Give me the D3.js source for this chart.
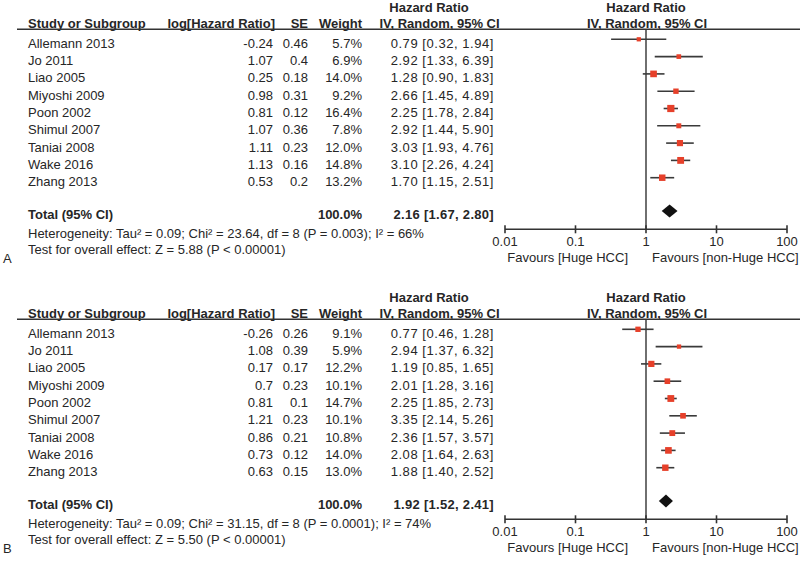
<!DOCTYPE html>
<html><head><meta charset="utf-8">
<script src="https://cdn.jsdelivr.net/npm/d3@7"></script>
<style>
html,body{margin:0;padding:0;background:#fff;}
svg text{font-family:"Liberation Sans",Arial,sans-serif;fill:#262626;}
</style></head>
<body><svg id="c" width="800" height="563"></svg>
<script>
const studies = ["Allemann 2013","Jo 2011","Liao 2005","Miyoshi 2009","Poon 2002","Shimul 2007","Taniai 2008","Wake 2016","Zhang 2013"];

// Panel A
const logHR_A = ["-0.24","1.07","0.25","0.98","0.81","1.07","1.11","1.13","0.53"];
const se_A = ["0.46","0.4","0.18","0.31","0.12","0.36","0.23","0.16","0.2"];
const weight_A = [5.7,6.9,14.0,9.2,16.4,7.8,12.0,14.8,13.2];
const hr_A = [0.79,2.92,1.28,2.66,2.25,2.92,3.03,3.10,1.70];
const lo_A = [0.32,1.33,0.90,1.45,1.78,1.44,1.93,2.26,1.15];
const hi_A = [1.94,6.39,1.83,4.89,2.84,5.90,4.76,4.24,2.51];
const total_A = [2.16,1.67,2.80];
const het_A = "Heterogeneity: Tau² = 0.09; Chi² = 23.64, df = 8 (P = 0.003); I² = 66%";
const test_A = "Test for overall effect: Z = 5.88 (P < 0.00001)";

// Panel B
const logHR_B = ["-0.26","1.08","0.17","0.7","0.81","1.21","0.86","0.73","0.63"];
const se_B = ["0.26","0.39","0.17","0.23","0.1","0.23","0.21","0.12","0.15"];
const weight_B = [9.1,5.9,12.2,10.1,14.7,10.1,10.8,14.0,13.0];
const hr_B = [0.77,2.94,1.19,2.01,2.25,3.35,2.36,2.08,1.88];
const lo_B = [0.46,1.37,0.85,1.28,1.85,2.14,1.57,1.64,1.40];
const hi_B = [1.28,6.32,1.65,3.16,2.73,5.26,3.57,2.63,2.52];
const total_B = [1.92,1.52,2.41];
const het_B = "Heterogeneity: Tau² = 0.09; Chi² = 31.15, df = 8 (P = 0.0001); I² = 74%";
const test_B = "Test for overall effect: Z = 5.50 (P < 0.00001)";

const tickVals = [0.01,0.1,1,10,100];
const tickLabels = ["0.01","0.1","1","10","100"];
const favLeft = "Favours [Huge HCC]";
const favRight = "Favours [non-Huge HCC]";

const svg = d3.select("#c");
const x = d3.scaleLog().domain([0.01,100]).range([505,787]);
const size = d3.scaleSqrt().domain([0,16.4]).range([0,7.2]);
const FS = "13px";
const f2 = d3.format(".2f");
const f1 = d3.format(".1f");

function panel(oy, label, logHR, se, weight, hr, lo, hi, total, het, test){
  const g = svg.append("g").attr("transform",`translate(0,${oy})`);
  const rowY = d3.scaleLinear().domain([0,1]).range([39.3,56.6]);
  const txt = (t,xx,yy,anchor,bold)=>g.append("text").attr("x",xx).attr("y",yy)
      .attr("text-anchor",anchor||"start").style("font-size",FS)
      .style("font-weight",bold?"bold":"normal").text(t);

  // headers
  txt("Hazard Ratio",429,12,"middle",true);
  txt("Hazard Ratio",646,12,"middle",true);
  txt("Study or Subgroup",28,27.5,"start",true);
  txt("log[Hazard Ratio]",275,27.5,"end",true);
  txt("SE",308,27.5,"end",true);
  txt("Weight",362,27.5,"end",true);
  txt("IV, Random, 95% CI",439.5,27.5,"middle",true);
  txt("IV, Random, 95% CI",647,27.5,"middle",true);
  g.append("line").attr("x1",17).attr("x2",800).attr("y1",29.3).attr("y2",29.3)
    .attr("stroke","#333").attr("stroke-width",1.4);

  // rows
  studies.forEach((s,i)=>{
    const y = rowY(i), ty = y+8.5;
    txt(s,28,ty);
    txt(logHR[i],273,ty,"end");
    txt(se[i],308,ty,"end");
    txt(f1(weight[i])+"%",362,ty,"end");
    txt(`${f2(hr[i])} [${f2(lo[i])}, ${f2(hi[i])}]`,494,ty,"end").style("letter-spacing","0.55px");
  });

  // total
  const ty = 211;
  txt("Total (95% CI)",28,ty+8,"start",true);
  txt("100.0%",362,ty+8,"end",true);
  txt(`${f2(total[0])} [${f2(total[1])}, ${f2(total[2])}]`,494,ty+8,"end",true).style("letter-spacing","0.3px");
  txt(het,28,237.5,"start");
  txt(test,28,253.5,"start");
  txt(label,3,263,"start");

  // vertical line at 1
  const axisY = 229.3;
  g.append("line").attr("x1",x(1)).attr("x2",x(1)).attr("y1",29.3).attr("y2",axisY)
    .attr("stroke","#333").attr("stroke-width",1.4);

  // CI lines and squares
  studies.forEach((s,i)=>{
    const y = rowY(i);
    g.append("line").attr("x1",x(lo[i])).attr("x2",x(hi[i])).attr("y1",y).attr("y2",y)
      .attr("stroke","#3a3a3a").attr("stroke-width",1.6);
    const w = size(weight[i]);
    g.append("rect").attr("x",x(hr[i])-w/2).attr("y",y-w/2).attr("width",w).attr("height",w)
      .attr("fill","#e6402a");
  });

  // diamond
  const dh = 6.5;
  g.append("path").attr("d",`M${x(total[1])},${ty}L${x(total[0])},${ty-dh}L${x(total[2])},${ty}L${x(total[0])},${ty+dh}Z`)
    .attr("fill","#111");

  // axis
  const ax = g.append("g").attr("transform",`translate(0,${axisY})`);
  ax.append("line").attr("x1",x(0.01)).attr("x2",x(100)).attr("stroke","#333").attr("stroke-width",1.6);
  tickVals.forEach((v,i)=>{
    ax.append("line").attr("x1",x(v)).attr("x2",x(v)).attr("y1",-4).attr("y2",4)
      .attr("stroke","#333").attr("stroke-width",1.6);
    ax.append("text").attr("x",x(v)).attr("y",16.5).attr("text-anchor","middle")
      .style("font-size",FS).text(tickLabels[i]);
  });
  ax.append("text").attr("x",628).attr("y",32.5).attr("text-anchor","end").style("font-size",FS).text(favLeft);
  ax.append("text").attr("x",652).attr("y",32.5).attr("text-anchor","start").style("font-size",FS).text(favRight);
}

panel(0,"A",logHR_A,se_A,weight_A,hr_A,lo_A,hi_A,total_A,het_A,test_A);
panel(290,"B",logHR_B,se_B,weight_B,hr_B,lo_B,hi_B,total_B,het_B,test_B);
</script></body></html>
